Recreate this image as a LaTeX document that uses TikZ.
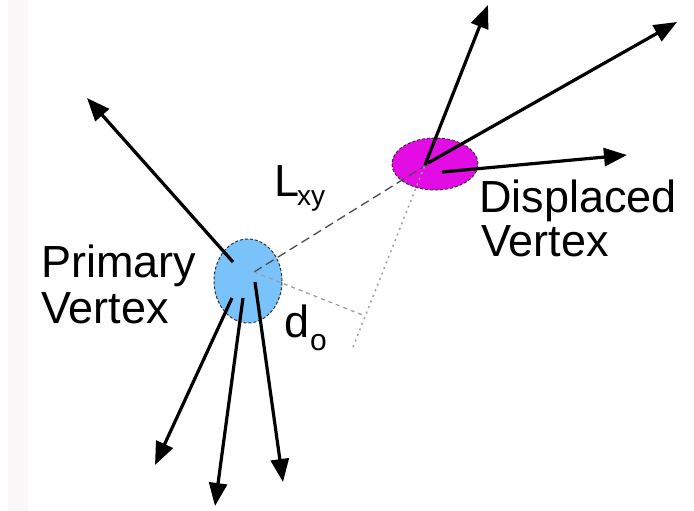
\documentclass[tikz,border=0pt]{standalone}
\usepackage{fontspec}
\setmainfont{Liberation Sans}
\usetikzlibrary{arrows.meta,shapes.geometric,calc}
\definecolor{pvblue}{RGB}{122,194,250}
\definecolor{dvmag}{RGB}{228,12,228}
\definecolor{stripgray}{RGB}{249,247,247}
\begin{document}
\begin{tikzpicture}[x=1pt,y=-1pt,
  track/.style={line width=3.2pt,-{Triangle[length=23pt,width=18pt]}},
  lbl/.style={font=\fontsize{45}{48}\selectfont, inner sep=0pt, anchor=base west},
  vtx/.style={ellipse, draw=black!80, dash pattern=on 3pt off 2pt, line width=1pt, inner sep=0pt},
  flight/.style={draw=gray!60!black, dash pattern=on 9pt off 5pt, line width=1.3pt},
  impact/.style={draw=gray!75, dash pattern=on 4pt off 4pt, line width=1.3pt},
  extline/.style={draw=gray!75, dash pattern=on 2pt off 4pt, line width=1.5pt}]
\useasboundingbox (0,0) rectangle (694,511);
\fill[stripgray] (8,0) rectangle (28,511);
% vertices
\node[vtx, fill=pvblue, minimum width=68pt, minimum height=84pt] (pv) at (248,281) {};
\node[vtx, fill=dvmag, minimum width=86pt, minimum height=52pt] (dv) at (435,164) {};
% key points
\coordinate (pc) at (254,272);
\coordinate (dc) at (428,164);
\coordinate (tA) at (425,165);
\coordinate (tipA) at (488,5);
\coordinate (ext) at (353,347);
\coordinate (foot) at ($(ext)!(pc)!(tA)$);
% construction lines
\draw[flight] (pc) -- (dc);
\draw[extline] (ext) -- (tA);
\draw[impact] (pc) -- (foot);
% primary tracks
\coordinate (p1s) at (233,262); \coordinate (p1e) at (87,98);
\coordinate (p2s) at (232,298); \coordinate (p2e) at (155,465);
\coordinate (p3s) at (243,298); \coordinate (p3e) at (215,506);
\coordinate (p4s) at (255,282); \coordinate (p4e) at (283,482);
\draw[track] (p1s) -- (p1e);
\draw[track] (p2s) -- (p2e);
\draw[track] (p3s) -- (p3e);
\draw[track] (p4s) -- (p4e);
% displaced tracks
\coordinate (d2s) at (428,163); \coordinate (d2e) at (677,22);
\coordinate (d3s) at (442,172); \coordinate (d3e) at (627,155);
\draw[track] (tA) -- (tipA);
\draw[track] (d2s) -- (d2e);
\draw[track] (d3s) -- (d3e);
% labels
\node[lbl] (pvl1) at (41,277) {Primary};
\node[lbl] (pvl2) at (41,323) {Vertex};
\node[lbl] (dvl1) at (479,212) {Displaced};
\node[lbl] (dvl2) at (481,256) {Vertex};
\node[lbl] (lxy) at (274,196) {L\kern-2pt\raisebox{-9pt}{\fontsize{28}{28}\selectfont xy}};
\node[lbl] (d0) at (284,337) {d\kern1pt\raisebox{-13pt}{\fontsize{30}{30}\selectfont o}};
\end{tikzpicture}
\end{document}
